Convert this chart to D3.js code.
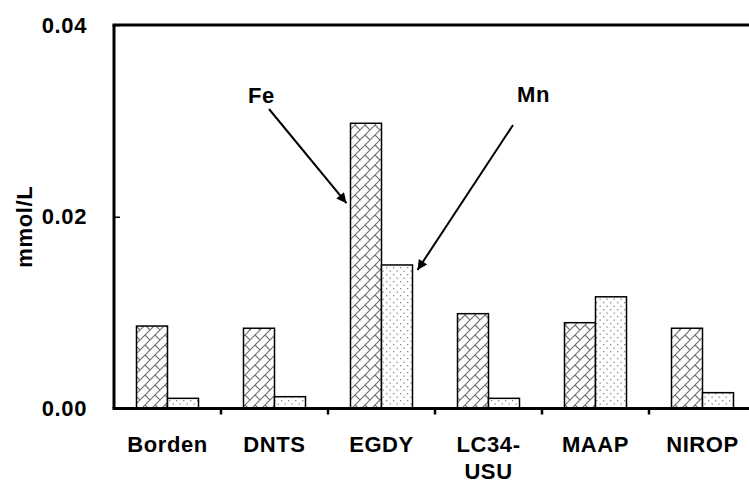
<!DOCTYPE html>
<html><head><meta charset="utf-8">
<script src="https://cdn.jsdelivr.net/npm/d3@7"></script>
<style>
body{margin:0;background:#fff;}
text{font-family:Arial,"Liberation Sans",sans-serif;font-weight:bold;letter-spacing:0.6px;}
</style></head>
<body><svg id="c" width="749" height="482"></svg>
<script>
const categories = ["Borden","DNTS","EGDY","LC34-\nUSU","MAAP","NIROP"];
const series = ["Fe","Mn"];
const feValues = [0.0086,0.00837,0.02975,0.00989,0.00895,0.00837];
const mnValues = [0.00106,0.00123,0.01497,0.00106,0.01165,0.00165];
const yTicks = [0,0.02,0.04];
const yTitle = "mmol/L";

const W=749,H=482;
const m={left:114,top:25,right:-7,bottom:73.5};
const FS=22;
const svg=d3.select("#c");
const defs=svg.append("defs");

// brick pattern for Fe
const pb=defs.append("pattern").attr("id","brick").attr("patternUnits","userSpaceOnUse")
  .attr("width",10).attr("height",10);
pb.append("rect").attr("width",10).attr("height",10).attr("fill","#fff");
pb.append("path").attr("d","M0,10L10,0M-1,1L1,-1M9,11L11,9M5,5L10,10")
  .attr("stroke","#6e6e6e").attr("stroke-width",1.1).attr("fill","none");
// dotted pattern for Mn
const pd=defs.append("pattern").attr("id","dots").attr("patternUnits","userSpaceOnUse")
  .attr("width",7).attr("height",7);
pd.append("rect").attr("width",7).attr("height",7).attr("fill","#fff");
pd.append("rect").attr("x",1).attr("y",1).attr("width",1.3).attr("height",1.3).attr("fill","#8a8a8a");
pd.append("rect").attr("x",4.5).attr("y",4.5).attr("width",1.3).attr("height",1.3).attr("fill","#8a8a8a");

const x=d3.scaleBand().domain(categories).range([m.left,W-m.right]).paddingInner(0).paddingOuter(0);
const xs=d3.scaleBand().domain(series).range([0,x.bandwidth()]).paddingInner(0).paddingOuter(0.726);
const y=d3.scaleLinear().domain([0,0.04]).range([H-m.bottom,m.top]);
const fills={Fe:"url(#brick)",Mn:"url(#dots)"};
const vals={Fe:feValues,Mn:mnValues};

const data=[];
categories.forEach((c,i)=>series.forEach(s=>data.push({c,s,v:vals[s][i]})));
svg.append("g").selectAll("rect").data(data).join("rect")
  .attr("x",d=>x(d.c)+xs(d.s)).attr("width",xs.bandwidth())
  .attr("y",d=>y(d.v)).attr("height",d=>y(0)-y(d.v))
  .attr("fill",d=>fills[d.s]).attr("stroke","#000").attr("stroke-width",1.5);

// Y axis
const ya=svg.append("g").attr("transform",`translate(${m.left},0)`)
  .call(d3.axisLeft(y).tickValues(yTicks).tickSize(-6).tickPadding(27).tickFormat(d3.format(".2f")));
ya.select(".domain").attr("stroke-width",3).attr("d",`M0,${y(0)}V${y(0.04)}`);
ya.selectAll(".tick line").attr("stroke-width",1.5);
ya.selectAll(".tick text").attr("font-size",FS).attr("font-family","Arial, Liberation Sans").attr("fill","#000");

// top frame line
svg.append("line").attr("x1",m.left-1.5).attr("x2",W).attr("y1",y(0.04)).attr("y2",y(0.04))
  .attr("stroke","#000").attr("stroke-width",3);

// X axis
svg.append("line").attr("x1",m.left-1.5).attr("x2",W).attr("y1",y(0)).attr("y2",y(0))
  .attr("stroke","#000").attr("stroke-width",3);
svg.append("g").selectAll("line").data(categories.slice(1)).join("line")
  .attr("x1",d=>x(d)).attr("x2",d=>x(d)).attr("y1",y(0)).attr("y2",y(0)+6)
  .attr("stroke","#000").attr("stroke-width",2.5);
const xl=svg.append("g").selectAll("text").data(categories).join("text")
  .attr("text-anchor","middle").attr("font-size",FS).attr("fill","#000")
  .attr("transform",d=>`translate(${x(d)+x.bandwidth()/2},${y(0)+43.5})`);
xl.each(function(d){
  const t=d3.select(this);
  d.split("\n").forEach((ln,i)=>t.append("tspan").attr("x",0).attr("dy",i?27:0).text(ln));
});

// Y title
svg.append("text").attr("transform",`translate(32,${(y(0)+y(0.04))/2+10}) rotate(-90)`)
  .attr("text-anchor","middle").attr("font-size",FS).attr("fill","#000").text(yTitle);

// annotations
defs.append("marker").attr("id","ah").attr("viewBox","0 0 10 10").attr("refX",10).attr("refY",5)
  .attr("markerWidth",12).attr("markerHeight",10).attr("markerUnits","userSpaceOnUse").attr("orient","auto")
  .append("path").attr("d","M0,0L10,5L0,10Z").attr("fill","#000");

const feX=x("EGDY")+xs("Fe"), mnX=x("EGDY")+xs("Mn")+xs.bandwidth();
svg.append("text").attr("x",248).attr("y",103).attr("font-size",FS).attr("fill","#000").text("Fe");
svg.append("line").attr("x1",269).attr("y1",109).attr("x2",feX-4).attr("y2",y(feValues[2]*0.72))
  .attr("stroke","#000").attr("stroke-width",2).attr("marker-end","url(#ah)");
svg.append("text").attr("x",517).attr("y",102).attr("font-size",FS).attr("fill","#000").text("Mn");
svg.append("line").attr("x1",513).attr("y1",125).attr("x2",mnX+5).attr("y2",y(mnValues[2]*0.965))
  .attr("stroke","#000").attr("stroke-width",2).attr("marker-end","url(#ah)");
</script></body></html>
